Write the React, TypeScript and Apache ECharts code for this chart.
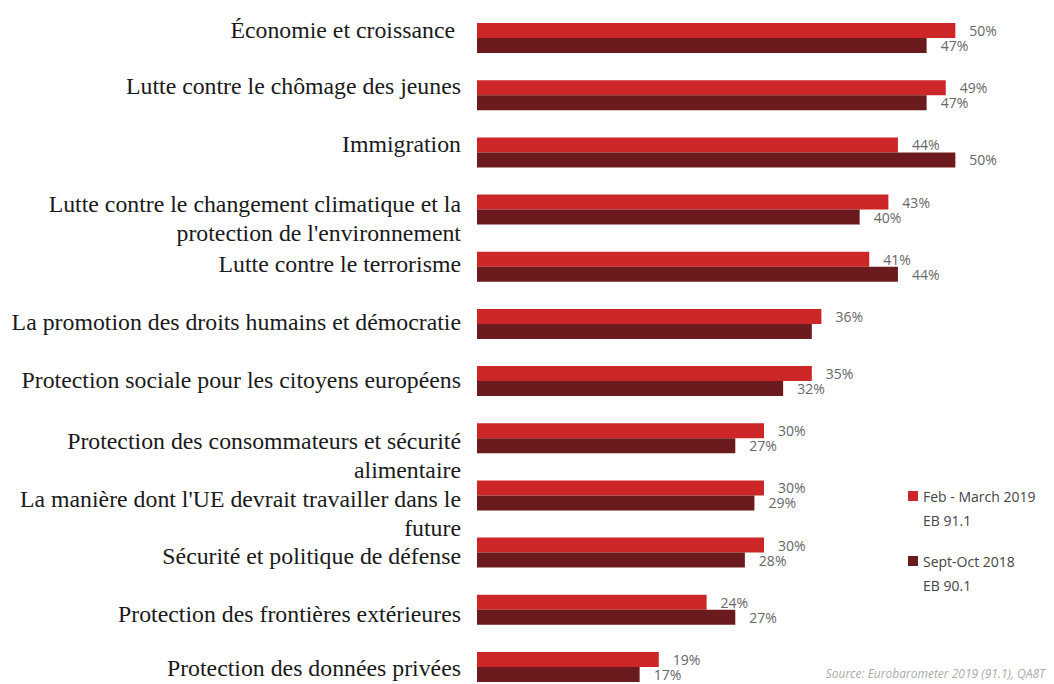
import React, { useEffect, useRef } from "react";
import * as echarts from "echarts";

const categories = [
  "Économie et croissance ",
  "Lutte contre le chômage des jeunes",
  "Immigration",
  "Lutte contre le changement climatique et la\nprotection de l'environnement",
  "Lutte contre le terrorisme",
  "La promotion des droits humains et démocratie",
  "Protection sociale pour les citoyens européens",
  "Protection des consommateurs et sécurité\nalimentaire",
  "La manière dont l'UE devrait travailler dans le\nfuture",
  "Sécurité et politique de défense",
  "Protection des frontières extérieures",
  "Protection des données privées",
];

const feb2019 = [50, 49, 44, 43, 41, 36, 35, 30, 30, 30, 24, 19];
const sept2018 = [47, 47, 50, 40, 44, 35, 32, 27, 29, 28, 27, 17];
// value labels printed in the source for the Sept-Oct 2018 series
const sept2018Labelled = [true, true, true, true, true, false, true, true, true, true, true, true];

const seriesNames = ["Feb - March 2019\nEB 91.1", "Sept-Oct 2018\nEB 90.1"];
const sourceText = "Source: Eurobarometer 2019 (91.1), QA8T";

// vertical nudges of the category labels (px, + = down) as in the source layout
const labelShift = [-8, -9, -8, 9, -3, -2, -1, 17, 18, 3, 4, 1];

export default function App() {
  const ref = useRef<HTMLDivElement>(null);
  useEffect(() => {
    if (!ref.current) return;
    const chart = echarts.init(ref.current, null, { renderer: "svg" });
    const rich: Record<string, any> = {
      t: {
        color: "#1a1a1a",
        fontFamily: "Liberation Serif",
        fontSize: 23.8,
        lineHeight: 29,
        align: "right",
      },
    };
    labelShift.forEach((s, i) => {
      rich["sp" + i] = { fontSize: 1, lineHeight: Math.max(1, 2 * Math.abs(s)), align: "right" };
    });
    const valueLabel = {
      show: true,
      position: "right",
      distance: 14,
      color: "#666",
      fontFamily: "Open Sans",
      fontSize: 14,
      lineHeight: 14,
      formatter: "{c}%",
    };
    chart.setOption({
      animation: false,
      backgroundColor: "#ffffff",
      grid: { left: 477, top: 9.5, width: 574, height: 686, containLabel: false },
      xAxis: {
        type: "value",
        min: 0,
        max: 60,
        show: false,
      },
      yAxis: {
        type: "category",
        inverse: true,
        data: categories,
        axisLine: { show: false },
        axisTick: { show: false },
        axisLabel: {
          margin: 16,
          align: "right",
          rich,
          formatter: (value: string, index: number) => {
            const s = labelShift[index];
            const body = value
              .split("\n")
              .map((l) => `{t|${l}}`)
              .join("\n");
            const sp = `{sp${index}| }`;
            if (s > 0) return `${sp}\n${body}`;
            if (s < 0) return `${body}\n${sp}`;
            return body;
          },
        },
      },
      legend: {
        orient: "vertical",
        left: 903,
        top: 455,
        itemWidth: 10,
        itemHeight: 10,
        itemGap: -7,
        icon: "rect",
        selectedMode: false,
        formatter: (name: string) => " \n" + name,
        textStyle: {
          color: "#444",
          fontFamily: "Open Sans",
          fontSize: 14,
          lineHeight: 24,
        },
        data: seriesNames,
      },
      title: {
        text: sourceText,
        right: 4,
        top: 662,
        textStyle: {
          color: "#aaa",
          fontFamily: "Open Sans",
          fontStyle: "italic",
          fontWeight: "normal",
          fontSize: 12,
        },
      },
      series: [
        {
          name: seriesNames[0],
          type: "bar",
          data: feb2019,
          barWidth: 15,
          barGap: "0%",
          itemStyle: { color: "#cc2629" },
          label: valueLabel,
        },
        {
          name: seriesNames[1],
          type: "bar",
          data: sept2018.map((v, i) => ({
            value: v,
            label: { show: sept2018Labelled[i] },
          })),
          barWidth: 15,
          barGap: "0%",
          itemStyle: { color: "#6b1a1d" },
          label: valueLabel,
        },
      ],
    });
    return () => chart.dispose();
  }, []);
  return (
    <div
      ref={ref}
      style={{ position: "fixed", left: 0, top: 0, width: 1054, height: 700 }}
    />
  );
}
